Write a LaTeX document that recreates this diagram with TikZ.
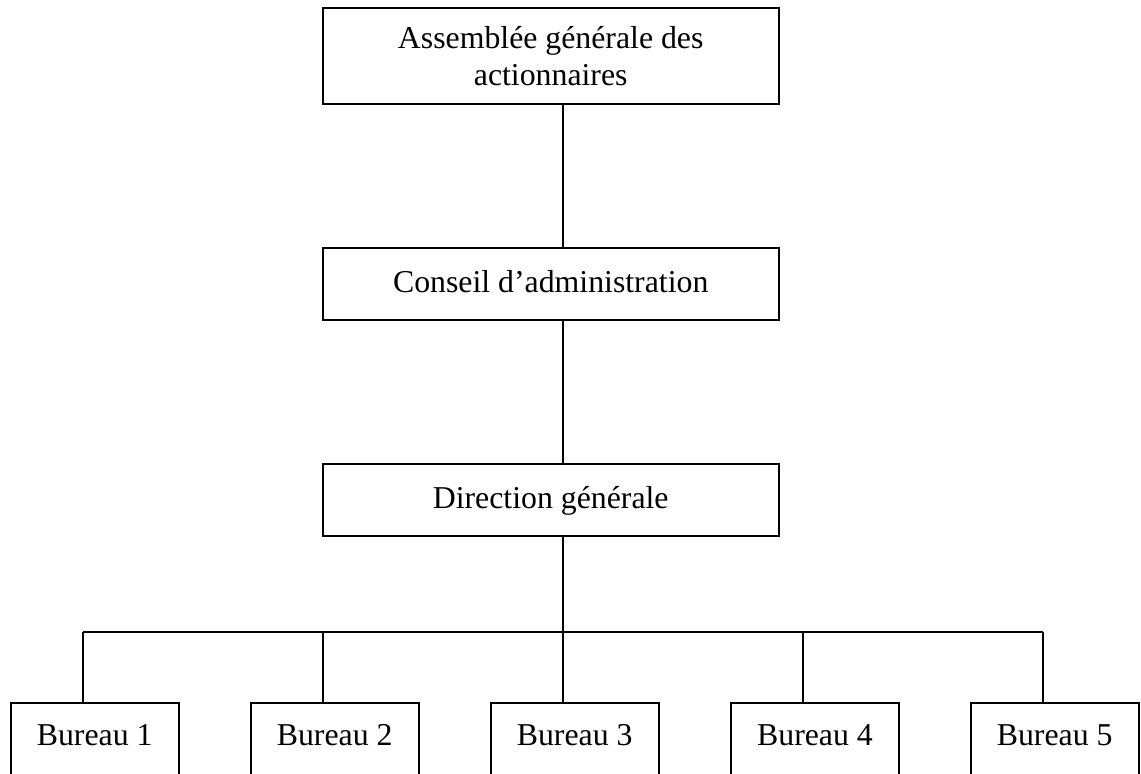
\documentclass[tikz,border=0pt]{standalone}
\usepackage{fontspec}
\setmainfont{Liberation Serif}
\begin{document}
\begin{tikzpicture}[x=1pt,y=1pt,
  box/.style={draw=black,line width=1.8pt,inner sep=0pt,align=center,
    font=\fontsize{31.8}{37}\selectfont},
  bigbox/.style={box,minimum width=456pt},
  burbox/.style={box,minimum width=168pt,minimum height=72pt,text depth=8pt},
  link/.style={draw=black,line width=1.8pt}]
\useasboundingbox (0,0) rectangle (1141,774);
\node[bigbox,minimum height=96pt] (ag) at (550.7,718) {Assemblée générale des\\actionnaires};
\node[bigbox,minimum height=72pt,text depth=6pt] (ca) at (550.7,490) {Conseil d’administration};
\node[bigbox,minimum height=72pt,text depth=6pt] (dg) at (550.7,274) {Direction générale};
\node[burbox] (b1) at (94.7,35) {Bureau 1};
\node[burbox] (b2) at (334.7,35) {Bureau 2};
\node[burbox] (b3) at (574.7,35) {Bureau 3};
\node[burbox] (b4) at (815,35) {Bureau 4};
\node[burbox] (b5) at (1054.7,35) {Bureau 5};
\coordinate (h1) at (82.7,142);
\coordinate (h2) at (322.7,142);
\coordinate (h3) at (563,142);
\coordinate (h4) at (803,142);
\coordinate (h5) at (1042.7,142);
\path[link] (ag.south -| h3) -- (ca.north -| h3);
\path[link] (ca.south -| h3) -- (dg.north -| h3);
\path[link] (dg.south -| h3) -- (h3);
\path[link] (h1) -- (h5);
\path[link] (h1) -- (h1 |- b1.north);
\path[link] (h2) -- (h2 |- b2.north);
\path[link] (h3) -- (h3 |- b3.north);
\path[link] (h4) -- (h4 |- b4.north);
\path[link] (h5) -- (h5 |- b5.north);
\end{tikzpicture}
\end{document}
